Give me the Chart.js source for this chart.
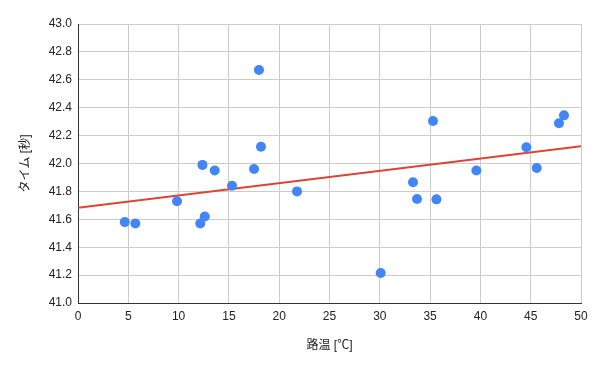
<!DOCTYPE html>
<html>
<head>
<meta charset="utf-8">
<script src="https://cdn.jsdelivr.net/npm/chart.js@4"></script>
<style>
html,body{margin:0;padding:0;background:#fff;}
#wrap{width:599px;height:368px;}
</style>
</head>
<body>
<div id="wrap"><canvas id="c" width="599" height="368"></canvas></div>
<script>
// Data
const roadTemp = [4.65, 5.7, 9.84, 12.15, 12.6, 12.37, 13.59, 17.5, 17.99, 18.19, 15.31, 21.77, 30.09, 35.29, 33.3, 33.7, 35.63, 39.6, 44.57, 45.6, 47.81, 48.31];
const lapTime  = [41.58, 41.57, 41.73, 41.57, 41.62, 41.99, 41.95, 41.96, 42.67, 42.12, 41.84, 41.80, 41.215, 42.305, 41.865, 41.745, 41.743, 41.95, 42.116, 41.968, 42.288, 42.345];
const trendX = [0, 50];
const trendY = [41.683, 42.123];
const xTicks = [0, 5, 10, 15, 20, 25, 30, 35, 40, 45, 50];
const yTicks = [41.0, 41.2, 41.4, 41.6, 41.8, 42.0, 42.2, 42.4, 42.6, 42.8, 43.0];
const xTitle = '路温 [℃]';
const yTitle = 'タイム [秒]';

const FONT = "Arial, 'Liberation Sans', 'Noto Sans CJK JP', sans-serif";
const points = roadTemp.map((x, i) => ({x: x, y: lapTime[i]}));
const trend = trendX.map((x, i) => ({x: x, y: trendY[i]}));

new Chart(document.getElementById('c'), {
  type: 'scatter',
  data: {
    datasets: [
      {
        data: points,
        backgroundColor: '#4285F4',
        borderColor: '#4285F4',
        pointRadius: 5,
        pointHoverRadius: 5,
        borderWidth: 0
      },
      {
        type: 'line',
        data: trend,
        borderColor: '#DB4437',
        borderWidth: 2,
        pointRadius: 0,
        fill: false,
        showLine: true
      }
    ]
  },
  options: {
    responsive: false,
    animation: false,
    events: [],
    layout: {padding: {left: 0, right: 18, top: 24, bottom: 0}},
    plugins: {legend: {display: false}, tooltip: {enabled: false}},
    scales: {
      x: {
        type: 'linear',
        min: 0, max: 50,
        afterBuildTicks: s => { s.ticks = xTicks.map(v => ({value: v})); },
        afterFit: s => { s.height = 65; },
        grid: {color: '#cccccc', drawTicks: false, lineWidth: 1},
        border: {color: '#333333', width: 1},
        ticks: {color: '#222222', padding: 6, font: {family: FONT, size: 12}, maxRotation: 0,
                callback: v => String(v)},
        title: {display: true, text: xTitle, color: '#222222', font: {family: FONT, size: 12},
                padding: {top: 0, bottom: 15}}
      },
      y: {
        type: 'linear',
        min: 41, max: 43,
        afterBuildTicks: s => { s.ticks = yTicks.map(v => ({value: v})); },
        afterFit: s => { s.width = 78; },
        grid: {color: '#cccccc', drawTicks: false, lineWidth: 1},
        border: {color: '#333333', width: 1},
        ticks: {color: '#222222', padding: 6, font: {family: FONT, size: 12},
                callback: v => Number(v).toFixed(1)},
        title: {display: true, text: yTitle, color: '#222222', font: {family: FONT, size: 12},
                padding: {top: 18, bottom: 0}}
      }
    }
  }
});
</script>
</body>
</html>
